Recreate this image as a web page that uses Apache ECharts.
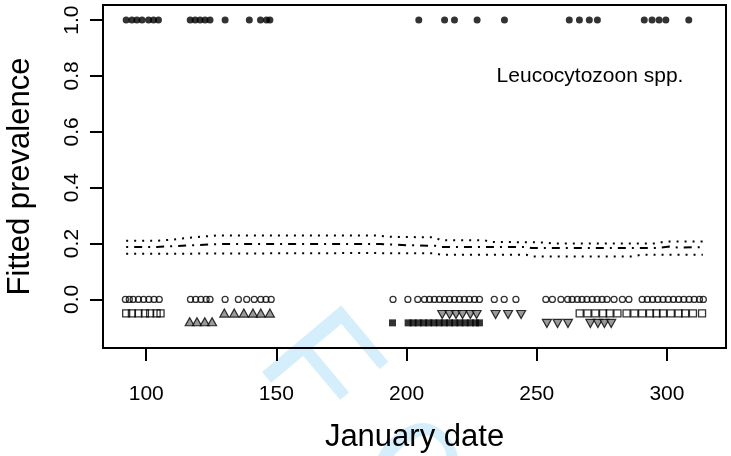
<!DOCTYPE html>
<html>
<head>
<meta charset="utf-8">
<script src="https://cdn.jsdelivr.net/npm/echarts@6/dist/echarts.min.js"></script>
<style>html,body{margin:0;padding:0;background:#fff;}#c{width:731px;height:456px;}</style>
</head>
<body>
<div id="c"></div>
<script>
// ---- data ----
const xTicks = [100, 150, 200, 250, 300];
const yTicks = [0, 0.2, 0.4, 0.6, 0.8, 1.0];

// infected birds (y = 1)
const positiveDays = [92.3,94.5,96.4,98.4,100.9,102.8,104.7,116.9,118.8,120.7,122.6,124.5,130.3,139.6,143.9,146.2,147.5,
  204.7,214.6,218.4,227.1,237.6,262.5,266.4,270.2,273.3,291.3,294.3,297,299.6,308.4];
// uninfected birds (y = 0)
const negativeDays = [92,93.5,95,97,99,101,103,105,117,119,121,123,124.5,130.3,135.4,138.6,141.5,144,146,148,
  194.8,200.5,204.3,206.9,208.8,210.7,212.6,214.6,216.5,218.4,220.3,222.2,224.1,226.1,228.0,
  233.7,237.5,242,253.5,256,259.3,261.9,263.6,265.6,267.4,269.3,271.3,273.2,275.1,277,279.7,
  282.9,285.4,290.5,292.5,294.5,296.5,298.5,300.5,302.5,304.5,306.5,308.5,310.5,312.5,314];
// sampling markers below zero
const openSquareDays = [92.3,94.5,97,99.5,101.5,104,105.5,266.5,269.5,272.5,275.5,278,281,
  284.5,287.5,290.5,293.5,296,298.5,301.5,304.5,307,310,313.5];
const openSquareY = -0.05;
const triUpDays = [116.7,119.5,122.5,125.3,130,133.8,137.5,141,144,147.5];
const triUpY = [-0.08,-0.08,-0.08,-0.08,-0.049,-0.049,-0.049,-0.049,-0.049,-0.049];
const filledSquareDays = [194.6,200.6,202.5,204.5,206.5,208.5,210.5,212.5,214.5,216.5,218.5,220.5,222.5,224.5,226.5,228];
const filledSquareY = -0.084;
const triDownDays = [213.7,216.5,219,221.5,224.5,226.9,234.2,239,244,253.9,258,262,270.6,273.5,276,278.6];
const triDownY = [-0.054,-0.054,-0.054,-0.054,-0.054,-0.054,-0.054,-0.054,-0.054,-0.086,-0.086,-0.086,-0.086,-0.086,-0.086,-0.086];

// fitted prevalence and confidence band
const upperX = [92.3,104,110,118,127,188,194,211,213,230,232,253,256,296,299,313.8];
const upperY = [0.210,0.210,0.214,0.222,0.229,0.229,0.224,0.222,0.212,0.212,0.206,0.204,0.200,0.200,0.207,0.207];
const fitX = [92.3,104,128,190,200,211,213,246,248,296,301,304,313.8];
const fitY = [0.188,0.188,0.198,0.198,0.194,0.192,0.188,0.188,0.184,0.184,0.189,0.186,0.187];
const lowerX = [92.3,185,196,211,213,246,248,287,290,313.8];
const lowerY = [0.163,0.166,0.165,0.165,0.160,0.160,0.154,0.154,0.160,0.160];

const zip = (xs, ys) => xs.map((x, i) => [x, Array.isArray(ys) ? ys[i] : ys]);

const FONT = 'Liberation Sans, Arial, Helvetica, sans-serif';
const chart = echarts.init(document.getElementById('c'), null, {renderer: 'canvas'});
const hollow = {color: 'rgba(0,0,0,0)', borderColor: '#000', borderWidth: 1.3};
const grey = {color: '#808080', borderColor: '#000', borderWidth: 1.2};
const WM_ROT = -50 * Math.PI / 180;

chart.setOption({
  backgroundColor: '#fff',
  animation: false,
  grid: {left: 103, right: 5, top: 5, bottom: 108, show: true, borderColor: '#000', borderWidth: 2, backgroundColor: 'transparent'},
  xAxis: {
    type: 'value', min: 83.4, max: 322.7,
    axisLine: {show: false, onZero: false},
    splitLine: {show: false},
    axisTick: {show: true, length: 13, lineStyle: {color: '#000', width: 2}, customValues: xTicks},
    axisLabel: {color: '#000', fontSize: 21, fontFamily: FONT, margin: 36, customValues: xTicks}
  },
  yAxis: {
    type: 'value', min: -0.174, max: 1.054,
    axisLine: {show: false, onZero: false},
    splitLine: {show: false},
    axisTick: {show: true, length: 13, lineStyle: {color: '#000', width: 2}, customValues: yTicks},
    axisLabel: {color: '#000', fontSize: 21, fontFamily: FONT, margin: 20, rotate: 90, customValues: yTicks,
      formatter: v => v.toFixed(1)}
  },
  graphic: [
    {type: 'text', z: -10, silent: true, x: 286, y: 336, rotation: WM_ROT,
      style: {text: 'F', fontSize: 150, fontFamily: FONT, fill: '#d4eefb', align: 'left', verticalAlign: 'middle'}},
    {type: 'text', z: -10, silent: true, x: 418, y: 462, rotation: WM_ROT,
      style: {text: 'o', fontSize: 150, fontFamily: FONT, fill: '#d4eefb', align: 'center', verticalAlign: 'middle'}},
    {type: 'text', x: 414.5, y: 437, style: {text: 'January date', fontSize: 31, fontFamily: FONT, fill: '#000', align: 'center', verticalAlign: 'middle'}},
    {type: 'text', x: 20, y: 176.5, rotation: Math.PI / 2, style: {text: 'Fitted prevalence', fontSize: 31, fontFamily: FONT, fill: '#000', align: 'center', verticalAlign: 'middle'}},
    {type: 'text', x: 590, y: 76, style: {text: 'Leucocytozoon spp.', fontSize: 21, fontFamily: FONT, fill: '#000', align: 'center', verticalAlign: 'middle'}}
  ],
  series: [
    {type: 'line', data: zip(upperX, upperY), showSymbol: false, silent: true,
      lineStyle: {color: '#000', width: 2, type: [2, 6]}},
    {type: 'line', data: zip(fitX, fitY), showSymbol: false, silent: true,
      lineStyle: {color: '#000', width: 2, type: [2, 6, 8, 6]}},
    {type: 'line', data: zip(lowerX, lowerY), showSymbol: false, silent: true,
      lineStyle: {color: '#000', width: 2, type: [2, 6]}},
    {type: 'scatter', data: zip(positiveDays, 1), symbol: 'circle', symbolSize: 7, silent: true,
      itemStyle: {color: '#000'}},
    {type: 'scatter', data: zip(negativeDays, 0), symbol: 'circle', symbolSize: 6, silent: true,
      itemStyle: hollow},
    {type: 'scatter', data: zip(openSquareDays, openSquareY), symbol: 'rect', symbolSize: 7, silent: true,
      itemStyle: hollow},
    {type: 'scatter', data: zip(triUpDays, triUpY), symbol: 'triangle', symbolSize: [9, 8], silent: true,
      itemStyle: grey},
    {type: 'scatter', data: zip(filledSquareDays, filledSquareY), symbol: 'rect', symbolSize: 7, silent: true,
      itemStyle: {color: '#000'}},
    {type: 'scatter', data: zip(triDownDays, triDownY), symbol: 'triangle', symbolRotate: 180, symbolSize: [9, 8], silent: true,
      itemStyle: grey}
  ]
});
</script>
</body>
</html>
